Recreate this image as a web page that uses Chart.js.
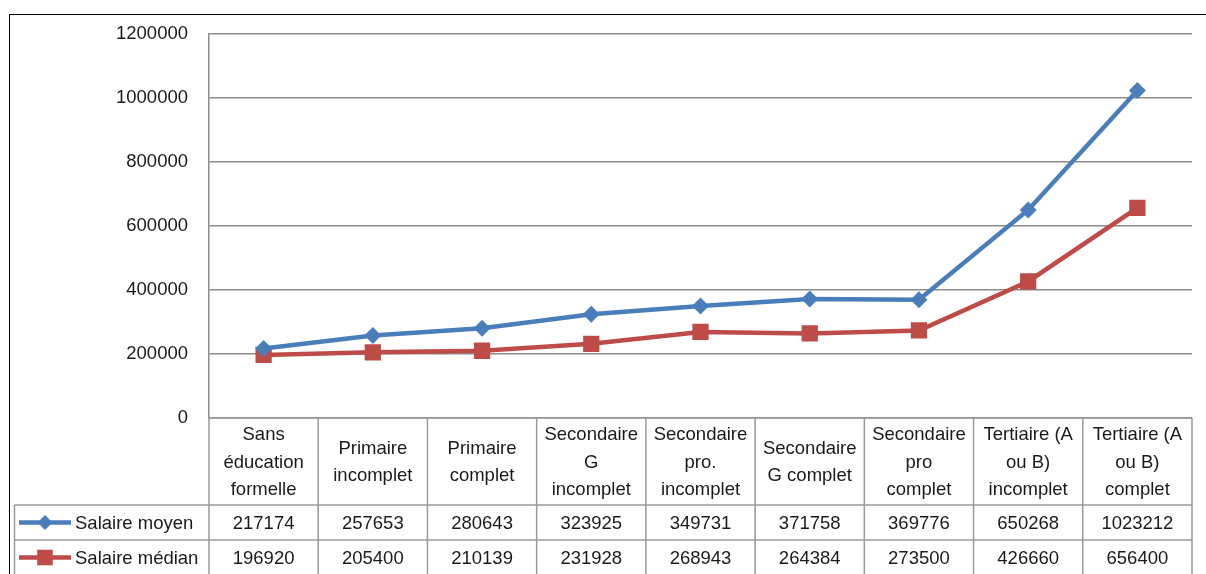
<!DOCTYPE html>
<html>
<head>
<meta charset="utf-8">
<script src="https://cdn.jsdelivr.net/npm/chart.js@4"></script>
<style>
  html, body { margin: 0; padding: 0; background: #fff; }
  #wrap { width: 1206px; height: 574px; }
</style>
</head>
<body>
<div id="wrap"><canvas id="lineChart" width="1206" height="574"></canvas></div>
<script>
// categories (header of the data table), one line per array entry
const categories = [
  ['Sans', 'éducation', 'formelle'],
  ['Primaire', 'incomplet'],
  ['Primaire', 'complet'],
  ['Secondaire', 'G', 'incomplet'],
  ['Secondaire', 'pro.', 'incomplet'],
  ['Secondaire', 'G complet'],
  ['Secondaire', 'pro', 'complet'],
  ['Tertiaire (A', 'ou B)', 'incomplet'],
  ['Tertiaire (A', 'ou B)', 'complet']
];
const salaireMoyen = [217174, 257653, 280643, 323925, 349731, 371758, 369776, 650268, 1023212];
const salaireMedian = [196920, 205400, 210139, 231928, 268943, 264384, 273500, 426660, 656400];
const yTicks = [0, 200000, 400000, 600000, 800000, 1000000, 1200000];

const FONT = "'Liberation Sans', Arial, sans-serif";
const FONT_SIZE = 18.5;
const BLUE = '#4a7ebb';
const RED = '#be4b48';
const GRID = '#8c8c8c';

// draws the frame and the data table under the plot
const tablePlugin = {
  id: 'dataTable',
  beforeDraw(chart) {
    const ctx = chart.ctx;
    ctx.save();
    ctx.strokeStyle = '#000';
    ctx.lineWidth = 1;
    ctx.strokeRect(9.5, 14.5, 1400, 800);
    ctx.restore();
  },
  afterDraw(chart) {
    const ctx = chart.ctx;
    const area = chart.chartArea;
    const x = chart.scales.x;
    const half = (area.right - area.left) / categories.length / 2;
    const headTop = area.bottom;
    const row1 = 505, row2 = 540, tableBottom = 575;
    const leftEdge = 14.5;

    ctx.save();
    ctx.strokeStyle = '#9a9a9a';
    ctx.lineWidth = 1.5;
    ctx.beginPath();
    // vertical lines
    for (let i = 0; i <= categories.length; i++) {
      const px = i < categories.length ? x.getPixelForValue(i) - half : x.getPixelForValue(i - 1) + half;
      ctx.moveTo(px, headTop);
      ctx.lineTo(px, tableBottom);
    }
    ctx.moveTo(leftEdge, row1);
    ctx.lineTo(leftEdge, tableBottom);
    // horizontal lines
    ctx.moveTo(area.left, headTop);
    ctx.lineTo(area.right, headTop);
    ctx.moveTo(leftEdge, row1);
    ctx.lineTo(area.right, row1);
    ctx.moveTo(leftEdge, row2);
    ctx.lineTo(area.right, row2);
    ctx.stroke();

    // header labels
    ctx.fillStyle = '#1a1a1a';
    ctx.font = FONT_SIZE + 'px ' + FONT;
    ctx.textAlign = 'center';
    ctx.textBaseline = 'middle';
    const lineH = 27.5;
    const headMid = (headTop + row1) / 2 + 1;
    categories.forEach((lines, i) => {
      const cx = x.getPixelForValue(i);
      const y0 = headMid - (lines.length - 1) * lineH / 2;
      lines.forEach((t, j) => ctx.fillText(t, cx, y0 + j * lineH));
    });

    // values
    const rows = [
      { label: 'Salaire moyen', data: salaireMoyen, color: BLUE, style: 'rectRot', r: 7.5, y: (row1 + row2) / 2 + 1 },
      { label: 'Salaire médian', data: salaireMedian, color: RED, style: 'rect', r: 11, y: (row2 + tableBottom) / 2 + 1 }
    ];
    rows.forEach(row => {
      ctx.fillStyle = '#1a1a1a';
      row.data.forEach((v, i) => ctx.fillText(String(v), x.getPixelForValue(i), row.y));
      // legend key
      const ky = row.y - 1;
      ctx.strokeStyle = row.color;
      ctx.lineWidth = 4.5;
      ctx.beginPath();
      ctx.moveTo(19, ky);
      ctx.lineTo(71, ky);
      ctx.stroke();
      ctx.fillStyle = row.color;
      ctx.beginPath();
      if (row.style === 'rectRot') {
        ctx.moveTo(45, ky - row.r);
        ctx.lineTo(45 + row.r, ky);
        ctx.lineTo(45, ky + row.r);
        ctx.lineTo(45 - row.r, ky);
      } else {
        const s = row.r * Math.SQRT1_2;
        ctx.rect(45 - s, ky - s, 2 * s, 2 * s);
      }
      ctx.fill();
      ctx.fillStyle = '#1a1a1a';
      ctx.textAlign = 'left';
      ctx.fillText(row.label, 75, row.y);
      ctx.textAlign = 'center';
    });
    ctx.restore();
  }
};

const ctx = document.getElementById('lineChart').getContext('2d');
new Chart(ctx, {
  type: 'line',
  data: {
    labels: categories,
    datasets: [
      {
        label: 'Salaire moyen',
        data: salaireMoyen,
        borderColor: BLUE,
        backgroundColor: BLUE,
        borderWidth: 4.5,
        pointStyle: 'rectRot',
        pointRadius: 8.5,
        pointHoverRadius: 8.5,
        pointBorderWidth: 0,
        tension: 0
      },
      {
        label: 'Salaire médian',
        data: salaireMedian,
        borderColor: RED,
        backgroundColor: RED,
        borderWidth: 4.5,
        pointStyle: 'rect',
        pointRadius: 11.5,
        pointHoverRadius: 11.5,
        pointBorderWidth: 0,
        tension: 0
      }
    ]
  },
  options: {
    responsive: false,
    animation: false,
    events: [],
    layout: { padding: { top: 34, right: 14, bottom: 156, left: 0 } },
    plugins: { legend: { display: false }, tooltip: { enabled: false } },
    scales: {
      x: {
        offset: true,
        ticks: { display: false },
        grid: { display: false, drawTicks: false },
        border: { display: false }
      },
      y: {
        min: 0,
        max: 1200000,
        afterFit(scale) { scale.width = 209; },
        afterBuildTicks(scale) { scale.ticks = yTicks.map(v => ({ value: v })); },
        ticks: {
          padding: 21,
          color: '#1a1a1a',
          font: { family: FONT, size: FONT_SIZE },
          callback: v => String(v)
        },
        grid: { color: GRID, lineWidth: 1.5, drawTicks: false },
        border: { display: true, color: GRID, width: 1.5 }
      }
    }
  },
  plugins: [tablePlugin]
});
</script>
</body>
</html>
